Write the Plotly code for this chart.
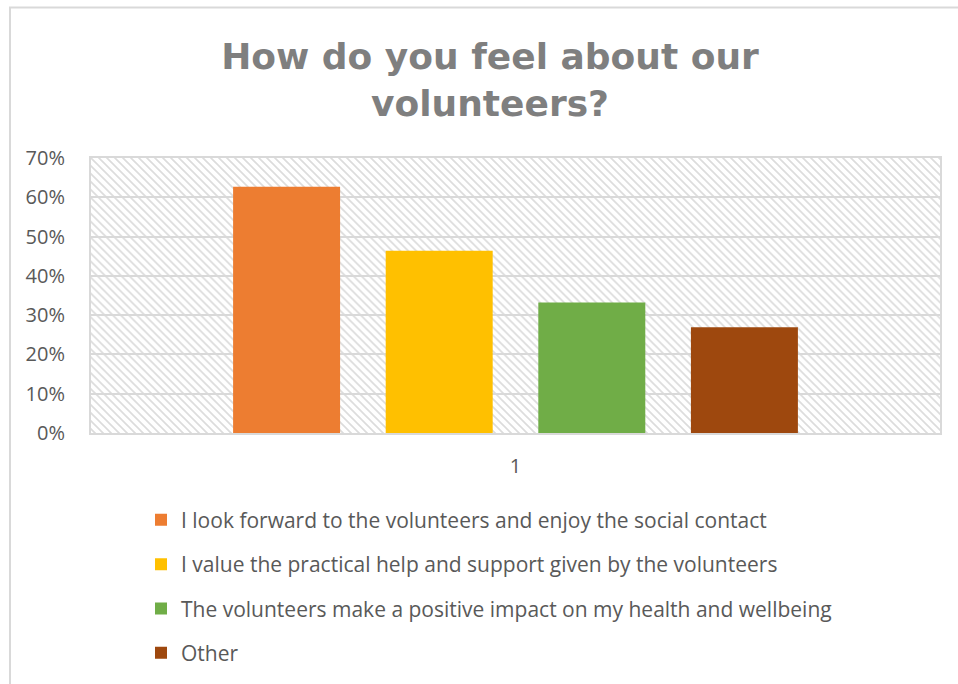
import base64
import plotly.graph_objects as go

# Survey results: share of respondents choosing each answer
categories = ["1"]
series_names = [
    "I look forward to the volunteers and enjoy the social contact",
    "I value the practical help and support given by the volunteers",
    "The volunteers make a positive impact on my health and wellbeing",
    "Other",
]
series_values = [0.627, 0.464, 0.332, 0.269]
series_colors = ["#ED7D31", "#FFC000", "#70AD47", "#9E480E"]
y_ticks = [0, 0.1, 0.2, 0.3, 0.4, 0.5, 0.6, 0.7]

W, H = 958, 684
M_L, M_R, M_T, M_B = 91, 18, 158, 250
PLOT_W, PLOT_H = W - M_L - M_R, H - M_T - M_B

TEXT_GREY = "#595959"
LINE_GREY = "#d9d9d9"
FONT = "Open Sans"

# Diagonal hatch fill for the plot area, rendered as an SVG tile
hatch_svg = (
    f"<svg xmlns='http://www.w3.org/2000/svg' width='{PLOT_W}' height='{PLOT_H}'>"
    "<defs><pattern id='h' width='8' height='8' patternUnits='userSpaceOnUse'>"
    "<path d='M0,0 L8,8 M-1,7 L1,9 M7,-1 L9,1' stroke='#dcdcdc' stroke-width='1.7'/>"
    "</pattern></defs>"
    "<rect width='100%' height='100%' fill='#ffffff'/>"
    "<rect width='100%' height='100%' fill='url(#h)'/>"
    "</svg>"
)
hatch_uri = "data:image/svg+xml;base64," + base64.b64encode(hatch_svg.encode()).decode()

fig = go.Figure()
for i, (name, val, col) in enumerate(zip(series_names, series_values, series_colors)):
    fig.add_trace(
        go.Bar(
            x=categories,
            y=[val],
            name=name,
            marker=dict(color=col, line=dict(width=0)),
            legendgroup=f"g{i}",
        )
    )

fig.update_layout(
    width=W,
    height=H,
    margin=dict(l=M_L, r=M_R, t=M_T, b=M_B, pad=0),
    paper_bgcolor="#ffffff",
    plot_bgcolor="rgba(0,0,0,0)",
    barmode="group",
    bargap=0.281,
    bargroupgap=0.299,
    title=dict(
        text="How do you feel about our<br>volunteers?",
        font=dict(family="DejaVu Sans", size=36, color="#7f7f7f", weight="bold"),
        x=490 / W,
        xanchor="center",
        xref="container",
        y=1 - 69 / H,
        yanchor="top",
        yref="container",
    ),
    font=dict(family=FONT, color=TEXT_GREY, size=20),
    xaxis=dict(
        type="category",
        showgrid=False,
        showline=True,
        mirror=True,
        linecolor=LINE_GREY,
        linewidth=2,
        ticks="",
        ticklabelstandoff=14,
        tickfont=dict(family=FONT, size=20, color=TEXT_GREY),
    ),
    yaxis=dict(
        range=[0, 0.7],
        tickvals=y_ticks,
        tickformat=".0%",
        showgrid=True,
        gridcolor=LINE_GREY,
        gridwidth=2,
        zeroline=False,
        showline=True,
        mirror=True,
        linecolor=LINE_GREY,
        linewidth=2,
        ticks="",
        ticklabelstandoff=20,
        tickfont=dict(family=FONT, size=20, color=TEXT_GREY),
    ),
    legend=dict(
        orientation="v",
        x=(141 - M_L) / PLOT_W,
        xanchor="left",
        y=-(499.7 - (H - M_B)) / PLOT_H,
        yanchor="top",
        traceorder="grouped",
        tracegroupgap=14,
        font=dict(family=FONT, size=21, color=TEXT_GREY),
        bgcolor="rgba(0,0,0,0)",
    ),
    images=[
        dict(
            source=hatch_uri,
            xref="paper",
            yref="paper",
            x=0,
            y=1,
            sizex=1,
            sizey=1,
            xanchor="left",
            yanchor="top",
            sizing="stretch",
            layer="below",
        )
    ],
    shapes=[
        # Outer chart frame (top and left edges fall inside the page)
        dict(
            type="rect",
            xref="paper",
            yref="paper",
            x0=(10 - M_L) / PLOT_W,
            x1=2,
            y0=-3,
            y1=(H - M_B - 7) / PLOT_H,
            line=dict(color=LINE_GREY, width=2),
            fillcolor="rgba(0,0,0,0)",
            layer="below",
        )
    ],
)

fig.write_html("out.html")
